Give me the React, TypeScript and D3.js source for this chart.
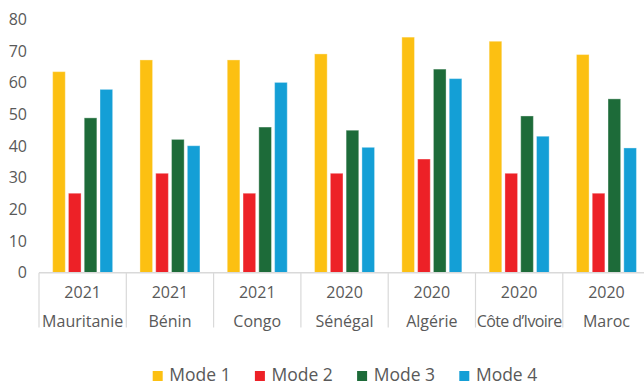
import React from "react";
import * as d3 from "d3";

const countries = ["Mauritanie", "Bénin", "Congo", "Sénégal", "Algérie", "Côte d’Ivoire", "Maroc"];
const years = ["2021", "2021", "2021", "2020", "2020", "2020", "2020"];
const seriesNames = ["Mode 1", "Mode 2", "Mode 3", "Mode 4"];
const mode1 = [63.5, 67.2, 67.2, 69.1, 74.4, 73.1, 68.9];
const mode2 = [25.1, 31.4, 25.1, 31.4, 35.9, 31.4, 25.1];
const mode3 = [48.9, 42.1, 46.0, 45.0, 64.3, 49.5, 54.9];
const mode4 = [57.9, 40.1, 60.1, 39.6, 61.3, 43.1, 39.4];
const yTicks = [0, 10, 20, 30, 40, 50, 60, 70, 80];
const colors = ["#FCC012", "#ED2127", "#1D6B39", "#149FD6"];

const W = 644;
const H = 383;
const FONT = "'Open Sans', sans-serif";
const TEXT = "#595959";

export default function App() {
  const series = [mode1, mode2, mode3, mode4];
  const y = d3.scaleLinear().domain([0, 80]).range([272.7, 19.4]);
  const x = d3.scaleBand<string>().domain(countries).range([39, 39 + 7 * 87.3]).padding(0);
  const bw = x.bandwidth();
  const groupW = 60;
  const xs = d3
    .scaleBand<string>()
    .domain(seriesNames)
    .range([(bw - groupW) / 2, (bw + groupW) / 2])
    .paddingInner(0.2)
    .paddingOuter(0);
  const legendX = d3.scaleLinear().domain([0, 3]).range([152.7, 459.3]);

  return (
    <svg
      width={W}
      height={H}
      style={{ position: "absolute", left: 0, top: 0, background: "#fff" }}
      fontFamily={FONT}
    >
      {yTicks.map((t) => (
        <text key={t} x={27} y={y(t)} dy="0.35em" textAnchor="end" fontSize={16} fill={TEXT}>
          {t}
        </text>
      ))}
      {countries.map((c, i) => (
        <g key={c} transform={`translate(${x(c)},0)`}>
          {series.map((s, j) => (
            <rect
              key={j}
              x={xs(seriesNames[j])}
              y={y(s[i])}
              width={xs.bandwidth()}
              height={y(0) - y(s[i])}
              fill={colors[j]}
              stroke="#ffffff"
              strokeOpacity={0.35}
              strokeWidth={1}
            />
          ))}
        </g>
      ))}
      {countries.map((c) => (
        <line key={"sep" + c} x1={x(c)} x2={x(c)} y1={y(0)} y2={327.5} stroke="#d9d9d9" strokeWidth={1.2} />
      ))}
      <line x1={39} x2={W} y1={y(0)} y2={y(0)} stroke="#d9d9d9" strokeWidth={1.6} />
      {countries.map((c, i) => (
        <g key={"lab" + c}>
          <text x={(x(c) as number) + bw / 2} y={298} textAnchor="middle" fontSize={16} fill={TEXT}>
            {years[i]}
          </text>
          <text
            x={(x(c) as number) + bw / 2}
            y={327}
            textAnchor="middle"
            fontSize={16}
            fill={TEXT}
            letterSpacing={c.length > 11 ? -0.6 : 0}
          >
            {c}
          </text>
        </g>
      ))}
      {seriesNames.map((n, j) => (
        <g key={n} transform={`translate(${legendX(j)},0)`}>
          <rect x={0} y={371} width={10} height={10} fill={colors[j]} />
          <text x={16.6} y={381.3} fontSize={17.5} fill={TEXT}>
            {n}
          </text>
        </g>
      ))}
    </svg>
  );
}
